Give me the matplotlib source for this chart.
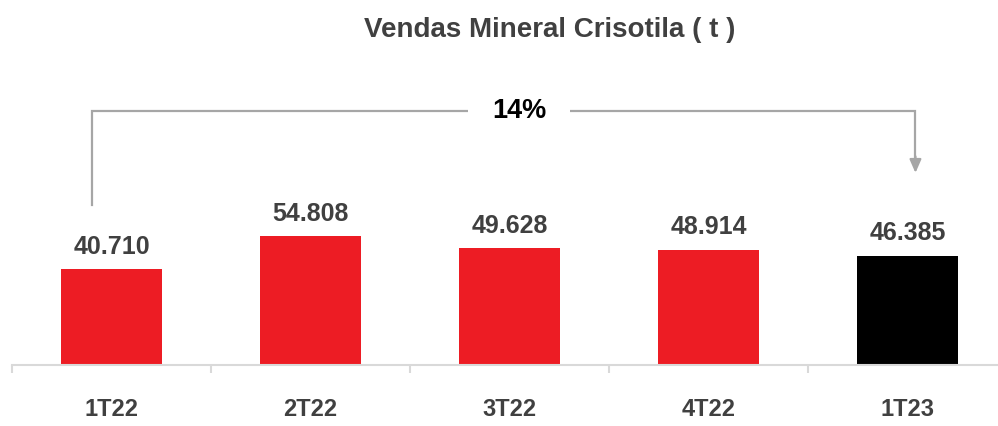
import numpy as np
import matplotlib.pyplot as plt

plt.rcParams["font.family"] = ["Liberation Sans", "DejaVu Sans"]
plt.rcParams["font.weight"] = "bold"

# >>>>>>>>>>>>>>  data
categories = ["1T22", "2T22", "3T22", "4T22", "1T23"]
vendas = [40710, 54808, 49628, 48914, 46385]   # toneladas
bar_colors = ["#ED1C24", "#ED1C24", "#ED1C24", "#ED1C24", "#000000"]
variacao = "14%"

# >>>>>>>>>>>>>> plotting
fig = plt.figure(figsize=(9.98, 4.26), dpi=100)
ax = fig.add_axes([12 / 998, 1 - 365 / 426, 995 / 998, 305 / 426])

x = np.arange(len(categories))
ax.bar(x, vendas, width=0.51, color=bar_colors)
ax.set_xlim(-0.5, len(categories) - 0.5)
ax.set_ylim(0, 129400)

for xi, v in zip(x, vendas):
    lbl = f"{v:,}".replace(",", ".")
    ax.annotate(lbl, (xi, v), xytext=(0, 11), textcoords="offset points",
                ha="center", va="baseline", fontsize=18, color="#404040",
                fontweight="bold")

# axis
for s in ["left", "right", "top"]:
    ax.spines[s].set_visible(False)
ax.spines["bottom"].set_color("#d9d9d9")
ax.spines["bottom"].set_linewidth(1.5)
ax.set_yticks([])
ax.set_xticks(x)
ax.set_xticklabels(categories, fontsize=17, color="#404040", fontweight="bold")
ax.tick_params(axis="x", which="major", length=0, pad=24)
ax.set_xticks(np.arange(-0.5, len(categories)), minor=True)
ax.tick_params(axis="x", which="minor", length=6, width=1.5, color="#d9d9d9")

# bracket 1T22 -> 1T23
gray = "#a6a6a6"
y_top = 107800
x_l, x_r = x[0] - 0.1, x[-1] + 0.04
ax.plot([x_l, x_l, x_r, x_r], [67900, y_top, y_top, 88000],
        color=gray, lw=1.6, solid_joinstyle="miter", clip_on=False)
ax.annotate("", xy=(x_r, 81500), xytext=(x_r, 88500),
            arrowprops=dict(arrowstyle="-|>,head_length=0.8,head_width=0.35",
                            color=gray, lw=1.6, shrinkA=0, shrinkB=0))
ax.text(2.048, y_top, variacao, ha="center", va="center", fontsize=19.5,
        color="black", fontweight="bold",
        bbox=dict(facecolor="white", edgecolor="none", pad=17))

fig.text(550 / 998, 1 - 30 / 426, "Vendas Mineral Crisotila ( t )",
         ha="center", va="center", fontsize=20, color="#404040", fontweight="bold")

plt.savefig("out.png", dpi=100)
